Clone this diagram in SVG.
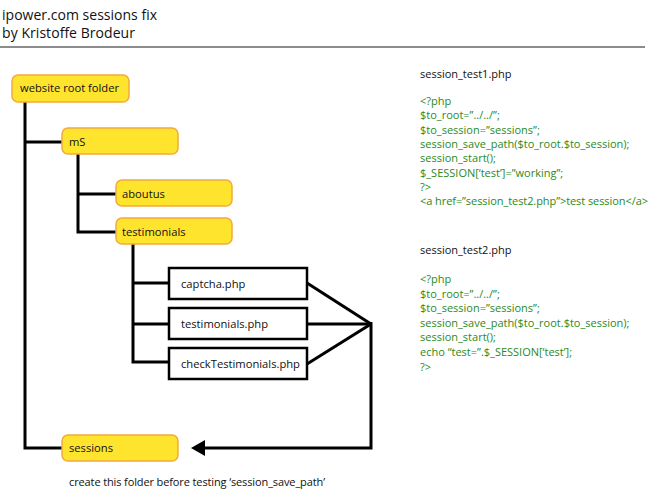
<svg xmlns="http://www.w3.org/2000/svg" width="650" height="490" viewBox="0 0 650 490">
<defs>
<style>
text{font-family:"Open Sans","Liberation Sans",sans-serif;fill:#111}
.title{font-size:14px}
.lbl{font-size:11.2px}
.code{font-size:11px;fill:#2a8a22}
.head{font-size:11px}
.folder{fill:#ffe42e;stroke:#f4a93c;stroke-width:1.5}
.file{fill:#fff;stroke:#000;stroke-width:2.5}
.ln{fill:none;stroke:#000;stroke-width:3}
</style>
</defs>
<rect width="650" height="490" fill="#fff"/>
<text class="title" x="2" y="20" textLength="155">ipower.com sessions fix</text>
<text class="title" x="2" y="38" textLength="133">by Kristoffe Brodeur</text>
<line x1="0" y1="47" x2="645" y2="47" stroke="#8c8c8c" stroke-width="1.8"/>

<g id="connectors">
<path class="ln" d="M25,102 V448 H62"/>
<path class="ln" d="M25,142 H62"/>
<path class="ln" d="M78,154 V232 H116"/>
<path class="ln" d="M78,194 H116"/>
<path class="ln" d="M133,244 V362 H169"/>
<path class="ln" d="M133,283 H169"/>
<path class="ln" d="M133,324 H169"/>
<path class="ln" d="M307,283 L371,324"/>
<path class="ln" d="M307,324 H371"/>
<path class="ln" d="M307,364 L371,324"/>
<path class="ln" d="M371,322 V448 H204"/>
<path d="M191,448 L205,440 L205,456 Z" fill="#000"/>
</g>

<g id="root"><rect class="folder" x="12" y="75" width="117" height="27" rx="6"/><text class="lbl" x="20" y="92">website root folder</text></g>
<g id="mS"><rect class="folder" x="62" y="128" width="116" height="26" rx="6"/><text class="lbl" x="69" y="146">mS</text></g>
<g id="aboutus"><rect class="folder" x="116" y="180" width="116" height="26" rx="6"/><text class="lbl" x="122" y="198">aboutus</text></g>
<g id="testimonials"><rect class="folder" x="116" y="218" width="116" height="26" rx="6"/><text class="lbl" x="122" y="236">testimonials</text></g>
<g id="captcha"><rect class="file" x="169" y="268" width="138" height="31"/><text class="lbl" x="181" y="288">captcha.php</text></g>
<g id="testimonialsphp"><rect class="file" x="169" y="308" width="138" height="31"/><text class="lbl" x="181" y="328">testimonials.php</text></g>
<g id="checkTestimonials"><rect class="file" x="169" y="348" width="138" height="31"/><text class="lbl" x="181" y="368">checkTestimonials.php</text></g>
<g id="sessions"><rect class="folder" x="62" y="435" width="116" height="26" rx="6"/><text class="lbl" x="69" y="452">sessions</text></g>

<text class="head" x="69" y="486" textLength="256">create this folder before testing ‘session_save_path’</text>

<g id="code1">
<text class="head" x="420" y="78">session_test1.php</text>
<text class="code" x="420" y="105">&lt;?php</text>
<text class="code" x="420" y="119.3">$to_root=”../../”;</text>
<text class="code" x="420" y="133.6">$to_session=”sessions”;</text>
<text class="code" x="420" y="147.9">session_save_path($to_root.$to_session);</text>
<text class="code" x="420" y="162.2">session_start();</text>
<text class="code" x="420" y="176.5">$_SESSION[‘test’]=”working”;</text>
<text class="code" x="420" y="190.8">?&gt;</text>
<text class="code" x="420" y="205.1" textLength="228">&lt;a href=”session_test2.php”&gt;test session&lt;/a&gt;</text>
</g>
<g id="code2">
<text class="head" x="420" y="254">session_test2.php</text>
<text class="code" x="420" y="283">&lt;?php</text>
<text class="code" x="420" y="297.6">$to_root=”../../”;</text>
<text class="code" x="420" y="312.2">$to_session=”sessions”;</text>
<text class="code" x="420" y="326.8">session_save_path($to_root.$to_session);</text>
<text class="code" x="420" y="341.4">session_start();</text>
<text class="code" x="420" y="356">echo “test=”.$_SESSION[‘test’];</text>
<text class="code" x="420" y="370.6">?&gt;</text>
</g>
</svg>
